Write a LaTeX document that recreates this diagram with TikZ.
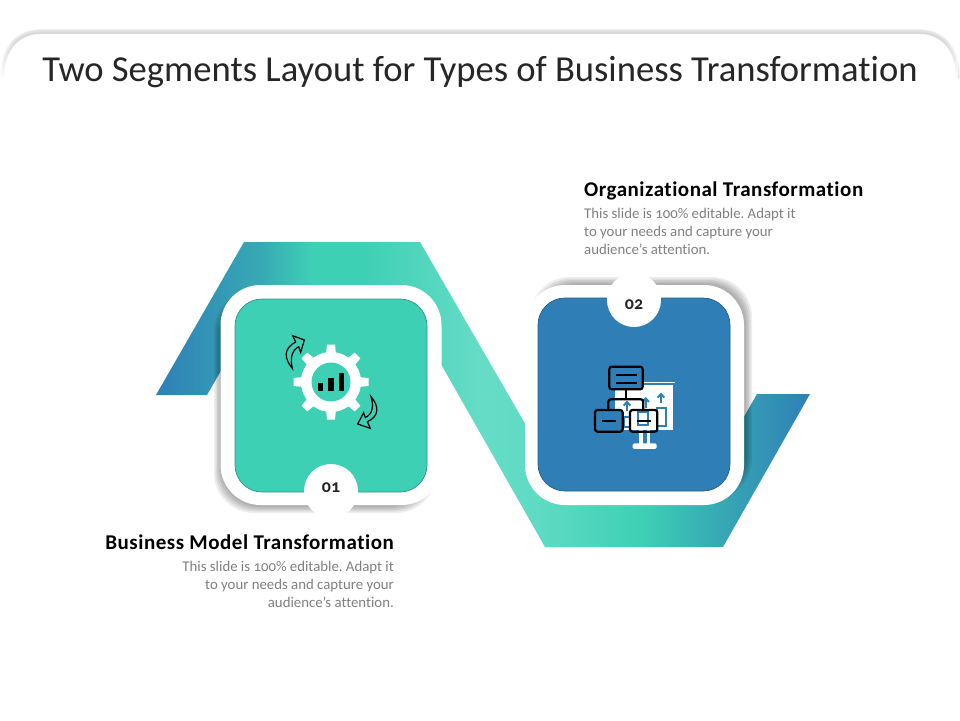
\documentclass[tikz,border=0pt]{standalone}
\usepackage{fontspec}
\setmainfont{Carlito}[Numbers=OldStyle,Ligatures=NoCommon]
\usetikzlibrary{positioning,fadings}
\frenchspacing
\definecolor{tealfill}{HTML}{3ED0B5}
\definecolor{tealedge}{HTML}{2F9384}
\definecolor{bluefill}{HTML}{2F7FB6}
\definecolor{blueedge}{HTML}{1F5D8A}
\definecolor{bodygray}{HTML}{7F7F7F}
\definecolor{titlegray}{HTML}{262626}
\definecolor{ribbonmid}{HTML}{37A9B5}
\definecolor{ribbonpale}{HTML}{66DCC6}
\definecolor{ribbonsoft}{HTML}{5FDBC3}
\pgfdeclarehorizontalshading{ribbonshade}{100bp}{
  color(0bp)=(bluefill); color(25bp)=(bluefill); color(33bp)=(ribbonmid);
  color(37bp)=(tealfill); color(41bp)=(tealfill); color(50bp)=(ribbonpale);
  color(54bp)=(ribbonsoft); color(62bp)=(tealfill); color(68bp)=(ribbonmid);
  color(75bp)=(bluefill); color(100bp)=(bluefill)}
\tikzset{
  frame/.style={fill=white, rounded corners=40pt, minimum width=#1, minimum height=220pt, inner sep=0pt},
  card/.style={rounded corners=27pt, minimum width=192pt, minimum height=193pt, inner sep=0pt, line width=0.7pt},
  badge/.style={circle, fill=white, minimum size=54pt, inner sep=0pt},
  numlabel/.style={font=\fontsize{18}{18}\selectfont\bfseries, text=titlegray, inner sep=0pt},
  heading/.style={font=\fontsize{21}{24}\selectfont\bfseries\addfontfeature{LetterSpace=2.5}, text=black, inner sep=0pt},
  blurb/.style={font=\fontsize{14.8}{18}\selectfont, text=bodygray, inner sep=0pt},
  shadowpiece/.style={fill=black, opacity=0.07, rounded corners=40pt},
  swirl/.style={draw=black, line width=1.2pt, line join=miter},
  iconbox/.style={draw=black, line width=2.2pt, rounded corners=2.5pt},
  iconline/.style={draw=black, line width=1.8pt},
  boardmark/.style={draw=bluefill, line width=2pt}
}
\begin{document}
\begin{tikzpicture}[x=1pt,y=-1pt]
  \useasboundingbox (0,0) rectangle (960,720);
  % top frame
  \foreach \d/\g in {0/7,1/10,2/13,3/15}
    \draw[line width=1.6pt, draw=black!\g]
      (1+\d,78) .. controls (1+\d,50) and (14+\d,\d+30) .. (42,\d+30) -- (918,\d+30)
      .. controls (946-\d,\d+30) and (959-\d,50) .. (959-\d,78);
  \fill[white] (4,80) .. controls (4,52) and (16,35) .. (42,35) -- (918,35)
      .. controls (944,35) and (956,52) .. (956,80) -- cycle;
  \fill[white, path fading=north] (0,40) rectangle (960,80);
  \node[inner sep=0pt, text=titlegray, font=\fontsize{36.6}{37}\selectfont] (title) at (480,72) {Two Segments Layout for Types of Business Transformation};
  % ribbon
  \shade[shading=ribbonshade] (156,395) -- (244,242) -- (420,242) -- (560,484) -- (725,450)
    -- (757,394) -- (810,394) -- (723,547) -- (545,547) -- (400,292) -- (262,300) -- (207,395) -- cycle;
  % shadows
  \foreach \s in {0,1.5,3,4.5,6}
    \path[shadowpiece] (214+\s,291+\s) rectangle (436-\s,513-\s);
  \foreach \s in {0,1.5,3,4.5,6}
    \path[shadowpiece] (530+\s,277+\s) rectangle (752-\s,499-\s);
  % cards
  \node[frame=221pt] (frameone) at (331,395) {};
  \node[frame=219pt] (frametwo) at (634.5,395) {};
  \node[card, fill=tealfill, draw=tealedge] (cardone) at (331,395.5) {};
  \node[card, fill=bluefill, draw=blueedge] (cardtwo) at (634,394.5) {};
  \node[badge] (badgeone) at (331,491) {};
  \node[badge] (badgetwo) at (634,300) {};
  \node[numlabel] (numone) at (331,488) {01};
  \node[numlabel] (numtwo) at (634,305) {02};
  % gear
  \foreach \a in {0,45,...,315}
    \fill[white, rotate around={\a:(331,382)}] (325.5,360) -- (327,344.5) -- (335,344.5) -- (336.5,360) -- cycle;
  \fill[white] (331,382) circle (30);
  \fill[tealfill] (331,382) circle (19.5);
  \fill[black] (318,382.5) rectangle (323,391);
  \fill[black] (328,377.5) rectangle (334,391);
  \fill[black] (338.5,372.5) rectangle (344,391);
  % swirl arrows
  \begin{scope}[shift={(260,320)}, x=0.3333pt, y=-0.3333pt]
    \draw[swirl] (97,145) .. controls (72,115) and (70,85) .. (107,66) -- (98,47) -- (133,60) -- (122,97)
      -- (116,80) .. controls (95,92) and (90,115) .. (97,145) -- cycle;
    \draw[swirl] (333,230) .. controls (358,258) and (358,290) .. (322,305) -- (331,325) -- (293,312) -- (311,278)
      -- (316,293) .. controls (338,282) and (342,258) .. (333,230) -- cycle;
  \end{scope}
  % org chart icon
  \begin{scope}[shift={(580,350)}, x=0.3333pt, y=-0.3333pt]
    \draw[white, line width=1.5pt] (188,98) -- (284,98);
    \fill[white] (105,105) rectangle (280,240);
    \fill[white, rounded corners=1.5pt] (158,280) rectangle (230,297);
    \fill[white] (178,240) rectangle (188,282);
    \fill[white] (200,240) rectangle (210,282);
    \draw[boardmark] (231,174) rectangle (258,228);
    \draw[boardmark] (132,200) rectangle (150,232);
    \draw[boardmark] (175,187) rectangle (205,225);
    \foreach \x/\y in {141/156,197/145,243/132} {
      \draw[boardmark] (\x,\y+28) -- (\x,\y);
      \draw[boardmark] (\x-10,\y+11) -- (\x,\y) -- (\x+10,\y+11);
    }
    \draw[iconbox, fill=bluefill] (88,50) rectangle (188,118);
    \draw[iconline] (108,75) -- (170,75);
    \draw[iconline] (108,100) -- (170,100);
    \draw[iconline] (138,118) -- (138,148);
    \draw[iconbox] (85,180) -- (85,148) -- (190,148) -- (190,180);
    \draw[iconbox, fill=bluefill] (45,180) rectangle (128,245);
    \draw[iconline] (65,213) -- (108,213);
    \draw[iconbox] (150,180) rectangle (232,245);
    \draw[iconline] (170,213) -- (212,213);
  \end{scope}
  % texts
  \node[heading, anchor=base west] (headtwo) at (584,196) {Organizational Transformation};
  \node[blurb, anchor=north west, align=left] (blurbtwo) at (584,208) {This slide is 100\% editable. Adapt it\\to your needs and capture your\\audience’s attention.};
  \node[heading, anchor=base east] (headone) at (394,549) {Business Model Transformation};
  \node[blurb, anchor=north east, align=right] (blurbone) at (394,561) {This slide is 100\% editable. Adapt it\\to your needs and capture your\\audience’s attention.};
\end{tikzpicture}
\end{document}
